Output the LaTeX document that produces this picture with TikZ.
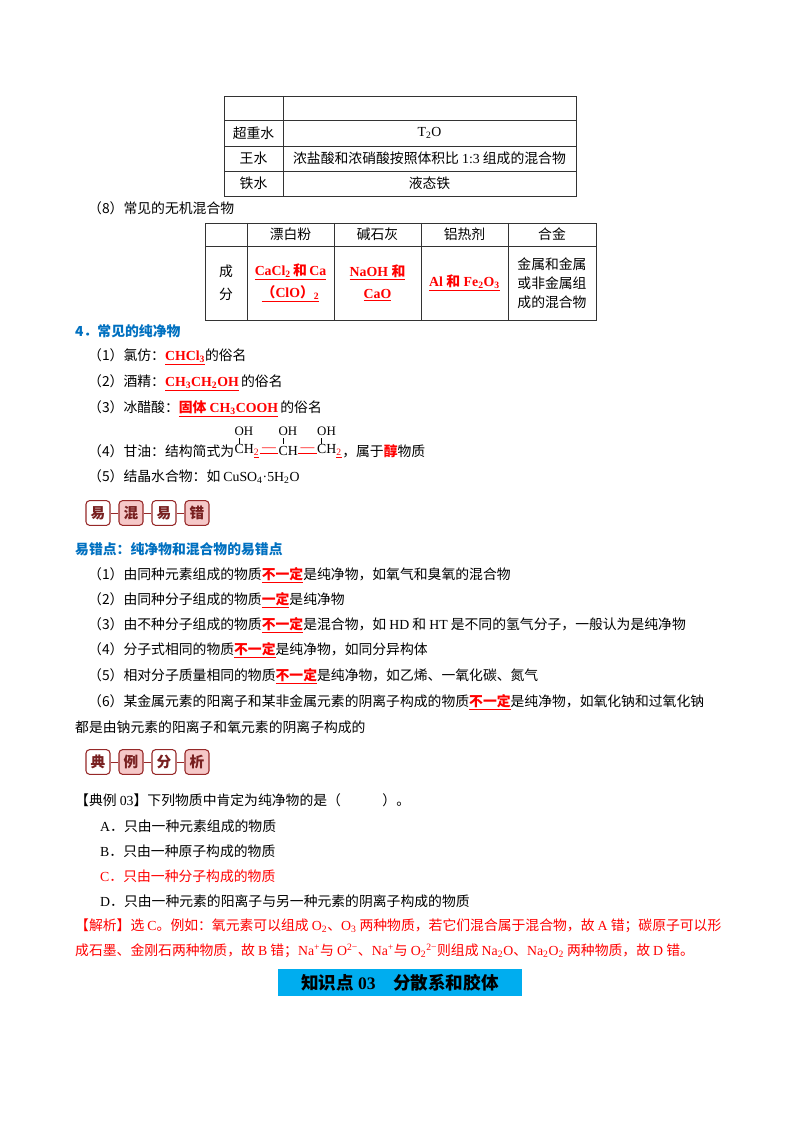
\documentclass[tikz,border=0pt]{standalone}
\usepackage{fontspec}
\setmainfont{Noto Sans CJK SC}
\newfontfamily\en{Liberation Serif}
\definecolor{hblue}{RGB}{0,112,192}
\definecolor{pinkf}{RGB}{245,200,200}
\definecolor{badgeb}{RGB}{150,40,40}
\newcommand{\ru}[1]{\textcolor{red}{\underline{#1}}}
\newcommand{\sub}[1]{\textsubscript{#1}}
\begin{document}
\begin{tikzpicture}[x=0.03cm,y=-0.03cm,
  t/.style={anchor=west,inner sep=0pt,font=\fontsize{11.8pt}{14pt}\selectfont},
  c/.style={inner sep=0pt,font=\fontsize{11.8pt}{14pt}\selectfont,align=center},
  grid/.style={draw=black!80,line width=0.6pt},
  badge/.style={draw=badgeb,line width=0.9pt,rounded corners=3pt,minimum width=0.72cm,minimum height=0.74cm,inner sep=0pt,font=\bfseries\fontsize{12.5pt}{14pt}\selectfont,text=badgeb!80!black}]
\useasboundingbox (0,0) rectangle (800,1132);
% table 1
\draw[grid] (224,96) rectangle (576,196);
\foreach \y in {120,146,171} \draw[grid] (224,\y) -- (576,\y);
\draw[grid] (283,96) -- (283,196);
\node[c] (a1) at (253.5,133) {超重水};
\node[c] (a2) at (429.5,133) {\en T\sub{2}O};
\node[c] (b1) at (253.5,158) {王水};
\node[c] (b2) at (429.5,158) {浓盐酸和浓硝酸按照体积比 {\en 1:3} 组成的混合物};
\node[c] (d1) at (253.5,183.5) {铁水};
\node[c] (d2) at (429.5,183.5) {液态铁};
\node[t] (s8) at (88,208) {（8）常见的无机混合物};
% table 2
\draw[grid] (205,223) rectangle (596,320);
\draw[grid] (205,246) -- (596,246);
\foreach \x in {247,334,421,508} \draw[grid] (\x,223) -- (\x,320);
\node[c] (h1) at (290.5,234.5) {漂白粉};
\node[c] (h2) at (377.5,234.5) {碱石灰};
\node[c] (h3) at (464.5,234.5) {铝热剂};
\node[c] (h4) at (552,234.5) {合金};
\node[c] (r0) at (226,283) {成\\[6pt]分};
\node[c,text=red] (r1) at (290.5,283) {\bfseries\ru{\en CaCl\sub{2}\,{\normalfont\bfseries 和}\,Ca}\\[5pt]\bfseries\ru{（{\en ClO}）{\en\sub{2}}}};
\node[c,text=red] (r2) at (377.5,283) {\bfseries\ru{\en NaOH {\normalfont\bfseries 和}}\\[5pt]\bfseries\ru{\en CaO}};
\node[c,text=red] (r3) at (464.5,283) {\bfseries\ru{\en Al {\normalfont\bfseries 和} Fe\sub{2}O\sub{3}}};
\node[c] (r4) at (552,283) {金属和金属\\[2pt]或非金属组\\[2pt]成的混合物};
% section 4
\node[t,text=hblue,font=\bfseries\fontsize{11.8pt}{14pt}\selectfont] (s4) at (75,331) {4．常见的纯净物};
\node[t] (p1) at (88,357) {（1）氯仿：\textbf{\ru{\en CHCl\sub{3}}}的俗名};
\node[t] (p2) at (88,383) {（2）酒精：\textbf{\ru{\en CH\sub{3}CH\sub{2}OH}}\,的俗名};
\node[t] (p3) at (88,409) {（3）冰醋酸：\textbf{\ru{固体 {\en CH\sub{3}COOH}}}\,的俗名};
\node[t] (p4) at (88,451) {（4）甘油：结构简式为};
\node[t,font=\en\fontsize{11.8pt}{14pt}\selectfont] (c1) at (p4.east) {CH\textcolor{red}{\underline{\sub{2}}}};
\node[t,font=\en\fontsize{11.8pt}{14pt}\selectfont] (m1) at (c1.east) {\textcolor{red}{\underline{\,—\,}}};
\node[t,font=\en\fontsize{11.8pt}{14pt}\selectfont] (c2) at (m1.east) {CH};
\node[t,font=\en\fontsize{11.8pt}{14pt}\selectfont] (m2) at (c2.east) {\textcolor{red}{\underline{\,—\,}}};
\node[t,font=\en\fontsize{11.8pt}{14pt}\selectfont] (c3) at (m2.east) {CH\textcolor{red}{\underline{\sub{2}}}};
\node[t] (g2) at (c3.east) {，属于\textcolor{red}{\textbf{醇}}物质};
\coordinate (ohl) at (0,431);
\coordinate (bt) at (0,438);
\coordinate (bb) at (0,444);
\foreach \c/\n in {c1/o1,c2/o2,c3/o3}{
  \node[anchor=west,inner sep=0pt,font=\en\fontsize{11pt}{12pt}\selectfont] (\n) at (\c.west |- ohl) {OH};
  \draw[line width=0.5pt] ([xshift=4pt]\n.west |- bt) -- ([xshift=4pt]\n.west |- bb);}
\node[t] (p5) at (88,477) {（5）结晶水合物：如 {\en CuSO\sub{4}·5H\sub{2}O}};
% badge 1
\foreach \i/\ch/\f in {0/易/white,1/混/pinkf,2/易/white,3/错/pinkf}{
  \node[badge,fill=\f] (e\i) at (98+\i*33,513) {\ch};}
\foreach \i/\j in {0/1,1/2,2/3} \draw[badgeb,line width=0.8pt] (e\i.east) -- (e\j.west);
\node[t,text=hblue,font=\bfseries\fontsize{11.8pt}{14pt}\selectfont] (s5) at (75,549) {易错点：纯净物和混合物的易错点};
\node[t] (q1) at (88,575) {（1）由同种元素组成的物质\textbf{\ru{不一定}}是纯净物，如氧气和臭氧的混合物};
\node[t] (q2) at (88,600) {（2）由同种分子组成的物质\textbf{\ru{一定}}是纯净物};
\node[t] (q3) at (88,625) {（3）由不种分子组成的物质\textbf{\ru{不一定}}是混合物，如 {\en HD} 和 {\en HT} 是不同的氢气分子，一般认为是纯净物};
\node[t] (q4) at (88,650) {（4）分子式相同的物质\textbf{\ru{不一定}}是纯净物，如同分异构体};
\node[t] (q5) at (88,676) {（5）相对分子质量相同的物质\textbf{\ru{不一定}}是纯净物，如乙烯、一氧化碳、氮气};
\node[t] (q6) at (88,702) {（6）某金属元素的阳离子和某非金属元素的阴离子构成的物质\textbf{\ru{不一定}}是纯净物，如氧化钠和过氧化钠};
\node[t] (q7) at (75,727) {都是由钠元素的阳离子和氧元素的阴离子构成的};
% badge 2
\foreach \i/\ch/\f in {0/典/white,1/例/pinkf,2/分/white,3/析/pinkf}{
  \node[badge,fill=\f] (f\i) at (98+\i*33,762) {\ch};}
\foreach \i/\j in {0/1,1/2,2/3} \draw[badgeb,line width=0.8pt] (f\i.east) -- (f\j.west);
\node[t] (ex) at (75,800) {【典例 {\en 03}】下列物质中肯定为纯净物的是（\hspace{3em}）。};
\node[t] (oa) at (100,826) {{\en A}．只由一种元素组成的物质};
\node[t] (ob) at (100,851) {{\en B}．只由一种原子构成的物质};
\node[t,text=red] (oc) at (100,876) {{\en C}．只由一种分子构成的物质};
\node[t] (od) at (100,901) {{\en D}．只由一种元素的阳离子与另一种元素的阴离子构成的物质};
\node[t,text=red] (j1) at (75,926) {【解析】选 {\en C}。例如：氧元素可以组成 {\en O\sub{2}}、{\en O\sub{3}} 两种物质，若它们混合属于混合物，故 {\en A} 错；碳原子可以形};
\node[t,text=red] (j2) at (75,951) {成石墨、金刚石两种物质，故 {\en B} 错；{\en Na\textsuperscript{+}}与 {\en O\textsuperscript{2−}}、{\en Na\textsuperscript{+}}与 {\en O\sub{2}\textsuperscript{2−}}则组成 {\en Na\sub{2}O}、{\en Na\sub{2}O\sub{2}} 两种物质，故 {\en D} 错。};
\fill[cyan] (278,969) rectangle (522,996);
\node[inner sep=0pt,font=\bfseries\fontsize{15pt}{16pt}\selectfont] (kt) at (400,983) {知识点 {\en 03}\quad 分散系和胶体};
\end{tikzpicture}
\end{document}
